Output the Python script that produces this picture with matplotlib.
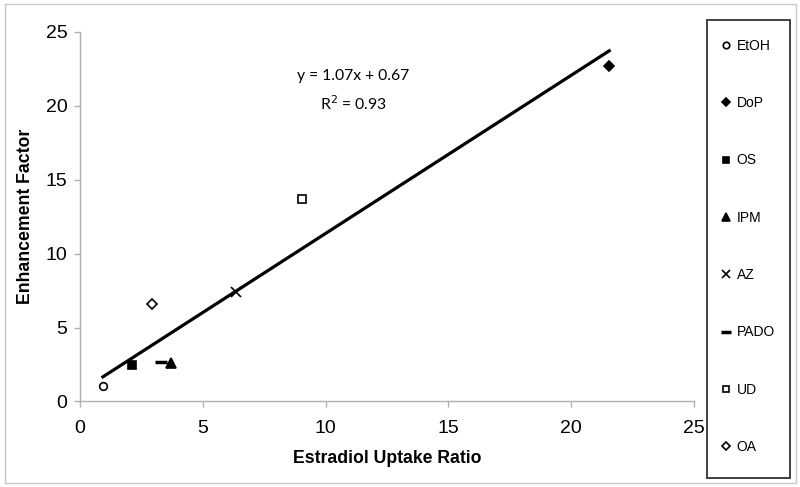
import numpy as np
import matplotlib.pyplot as plt
from matplotlib.patches import Rectangle

plt.rcParams['font.family'] = ['Liberation Sans', 'DejaVu Sans']

# solvent series (estradiol uptake ratio, enhancement factor)
names = ['EtOH', 'DoP', 'OS', 'IPM', 'AZ', 'PADO', 'UD', 'OA']
uptake = [0.93, 21.55, 2.13, 3.70, 6.35, 3.30, 9.02, 2.93]
enhancement = [1.03, 22.7, 2.48, 2.6, 7.43, 2.68, 13.68, 6.6]

# trendline reported on the chart
slope = 1.07
intercept = 0.67
r_squared = 0.93

markers = {
    'EtOH': dict(marker='o', mfc='white', ms=5.5),
    'DoP': dict(marker='D', mfc='black', ms=5.2),
    'OS': dict(marker='s', mfc='black', ms=5.8),
    'IPM': dict(marker='^', mfc='black', ms=7),
    'AZ': dict(marker='x', mfc='black', ms=6.5),
    'PADO': dict(marker='_', mfc='black', ms=9, mew=2.5),
    'UD': dict(marker='s', mfc='white', ms=5.5),
    'OA': dict(marker='D', mfc='white', ms=5),
}

fig = plt.figure(figsize=(8, 4.87), dpi=100)
ax = fig.add_axes([0.1, 0.1756, 0.7675, 0.7587])

xs = np.array([min(uptake), max(uptake)])
ax.plot(xs, slope * xs + intercept, color='black', lw=2.3, zorder=2)

for name, x, y in zip(names, uptake, enhancement):
    style = dict(mec='black', mew=1.2, ls='None')
    style.update(markers[name])
    ax.plot([x], [y], label=name, zorder=3, **style)

ax.text(11.14, 22.0, f'y = {slope:.2f}x + {intercept:.2f}', ha='center', va='center',
        fontsize=11.3, family=['Lato', 'DejaVu Sans'])
ax.text(11.14, 20.15, f'R$^2$ = {r_squared:.2f}', ha='center', va='center',
        fontsize=11.3, family=['Lato', 'DejaVu Sans'])

ax.set_xlim(0, 25)
ax.set_ylim(0, 25)
ax.set_xticks(range(0, 26, 5))
ax.set_yticks(range(0, 26, 5))
for side in ['top', 'right']:
    ax.spines[side].set_visible(False)
for side in ['left', 'bottom']:
    ax.spines[side].set_color('#b0b0b0')
    ax.spines[side].set_linewidth(1.0)
ax.tick_params(axis='both', colors='#b0b0b0', length=4, width=1.0, labelsize=14,
               labelcolor='black')
ax.tick_params(axis='y', pad=5)
ax.tick_params(axis='x', pad=9)
ax.set_xlabel('Estradiol Uptake Ratio', fontsize=12.7, fontweight='bold')
ax.set_ylabel('Enhancement Factor', fontsize=12.7, fontweight='bold')
ax.xaxis.set_label_coords(0.5, -0.13)
ax.yaxis.set_label_coords(-0.075, 0.5)

# legend entries without frame, box drawn separately
fig.legend(loc='upper left', bbox_to_anchor=(707 / 800, 1 - 25.5 / 487),
           fontsize=10, frameon=False, numpoints=1,
           markerscale=0.85, handlelength=0.8, handletextpad=0.39,
           labelspacing=3.12, borderpad=0.96, borderaxespad=0)
fig.patches.append(Rectangle((707 / 800, 9 / 487), 83 / 800, 458 / 487,
                             transform=fig.transFigure, fill=False,
                             edgecolor='#333333', lw=1.3))

fig.patches.append(Rectangle((5 / 800, 4 / 487), 791 / 800, 479 / 487,
                             transform=fig.transFigure, fill=False,
                             edgecolor='#c8c8c8', lw=1.0))

fig.savefig('out.png', dpi=100)
